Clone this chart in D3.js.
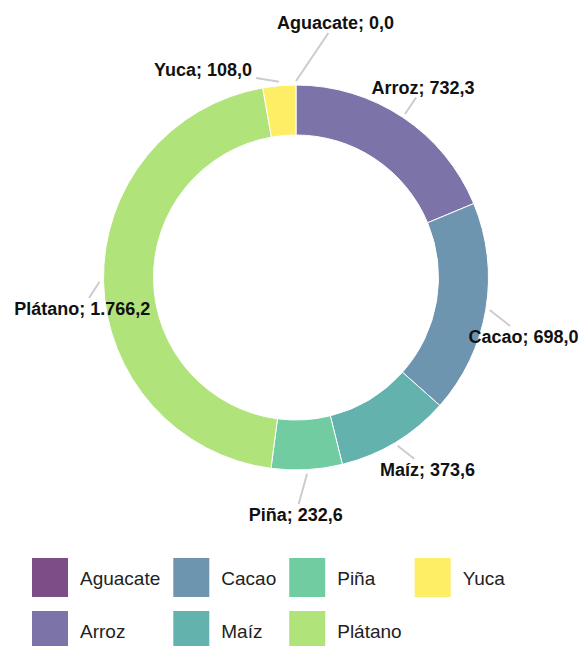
<!DOCTYPE html>
<html>
<head>
<meta charset="utf-8">
<script src="https://cdn.jsdelivr.net/npm/d3@7"></script>
<style>
    body { margin: 0; background: #fff; }
    svg { display: block; font-family: "Liberation Sans", Arial, sans-serif; }
    .slice-label { font-size: 18px; font-weight: bold; fill: #111; }
    .legend-text { font-size: 19px; fill: #222; }
    .leader { stroke: #ccc; stroke-width: 2; fill: none; }
</style>
</head>
<body>
<div id="chart"></div>
<script>
// data
var categories = ["Aguacate", "Arroz", "Cacao", "Maíz", "Piña", "Plátano", "Yuca"];
var values = [0.0, 732.3, 698.0, 373.6, 232.6, 1766.2, 108.0];

var width = 580, height = 646;
var cx = 296, cy = 277.5;
var outerR = 192.5, innerR = 142.5;
var labelR = 229;

// hand tuned label placement (degrees added to mid angle, radius of label centre)
var labelAdjust = {
    "Aguacate": { da: 8.8, r: 258 },
    "Yuca": { da: -19.1, r: 228 },
    "Cacao": { da: 5, r: 235 },
    "Maíz": { da: -3.3, r: 232.5 },
    "Piña": { da: 3.3, r: 237 },
    "Plátano": { da: -7, r: 216 }
};

var esLocale = d3.formatLocale({ decimal: ",", thousands: ".", grouping: [3], currency: ["", ""] });
var fmt = esLocale.format(",.1f");

var color = d3.scaleOrdinal()
    .domain(categories)
    .range(categories.map(function (d, i) { return d3.interpolateViridis(i / (categories.length - 1)); }));

var dataset = categories.map(function (c, i) { return { key: c, value: values[i] }; });

var svg = d3.select("#chart").append("svg")
    .attr("width", width)
    .attr("height", height);

var pie = d3.pie().sort(null).value(function (d) { return d.value; });
var arc = d3.arc().innerRadius(innerR).outerRadius(outerR);
var arcs = pie(dataset);

var g = svg.append("g").attr("transform", "translate(" + cx + "," + cy + ")");

g.selectAll("path.slice")
    .data(arcs)
    .enter()
    .append("path")
    .attr("class", "slice")
    .attr("d", arc)
    .attr("fill", function (d) { return color(d.data.key); })
    .attr("fill-opacity", 0.7)
    .attr("stroke", "#fff")
    .attr("stroke-width", 1);

function polar(angle, r) {
    return [Math.sin(angle) * r, -Math.cos(angle) * r];
}

// labels
var labelG = g.append("g");
var leaderG = g.insert("g", ":first-child");

arcs.forEach(function (d) {
    var mid = (d.startAngle + d.endAngle) / 2;
    var adj = labelAdjust[d.data.key] || { da: 0, r: labelR };
    var pos = polar(mid + adj.da * Math.PI / 180, adj.r);

    var text = labelG.append("text")
        .attr("class", "slice-label")
        .attr("text-anchor", "middle")
        .attr("x", pos[0])
        .attr("y", pos[1] + 6.5)
        .text(d.data.key + "; " + fmt(d.data.value));

    var w = text.node().getComputedTextLength();
    var pad = 4;
    var box = {
        x0: pos[0] - w / 2 - pad, x1: pos[0] + w / 2 + pad,
        y0: pos[1] + 6.5 - 13 - pad, y1: pos[1] + 6.5 + pad
    };

    // leader from ring edge toward the label centre, stopping at its box
    var s = polar(mid, outerR + 4);
    var dx = pos[0] - s[0], dy = pos[1] - s[1];
    var t = 1;
    if (dx > 0) t = Math.min(t, (box.x0 - s[0]) / dx > 0 ? Math.max((box.x0 - s[0]) / dx, 0) : t);
    if (dx < 0) t = Math.min(t, (box.x1 - s[0]) / dx > 0 ? Math.max((box.x1 - s[0]) / dx, 0) : t);
    var ty = 1;
    if (dy > 0) ty = (box.y0 - s[1]) / dy;
    if (dy < 0) ty = (box.y1 - s[1]) / dy;
    var tx = 0;
    if (dx > 0) tx = (box.x0 - s[0]) / dx;
    if (dx < 0) tx = (box.x1 - s[0]) / dx;
    // the box is entered at the later of the two crossings
    var tt = Math.max(Math.min(tx, 1), Math.min(ty, 1), 0);

    leaderG.append("line")
        .attr("class", "leader")
        .attr("x1", s[0])
        .attr("y1", s[1])
        .attr("x2", s[0] + dx * tt)
        .attr("y2", s[1] + dy * tt);
});

// legend, column-major, 2 rows
var legendX = 32, legendY = 558;
var swW = 36, swH = 39, rowStep = 53, textGap = 12, colGap = 13;
var rows = 2;

var legend = svg.append("g").attr("class", "legend");
var colX = legendX;
var nCols = Math.ceil(categories.length / rows);

for (var c = 0; c < nCols; c++) {
    var maxW = 0;
    for (var r = 0; r < rows; r++) {
        var idx = c * rows + r;
        if (idx >= categories.length) break;
        var item = legend.append("g")
            .attr("transform", "translate(" + colX + "," + (legendY + r * rowStep) + ")");
        item.append("rect")
            .attr("width", swW)
            .attr("height", swH)
            .attr("fill", color(categories[idx]))
            .attr("fill-opacity", 0.7);
        var lt = item.append("text")
            .attr("class", "legend-text")
            .attr("x", swW + textGap)
            .attr("y", swH / 2 + 7)
            .text(categories[idx]);
        maxW = Math.max(maxW, lt.node().getComputedTextLength());
    }
    colX += swW + textGap + maxW + colGap;
}
</script>
</body>
</html>
